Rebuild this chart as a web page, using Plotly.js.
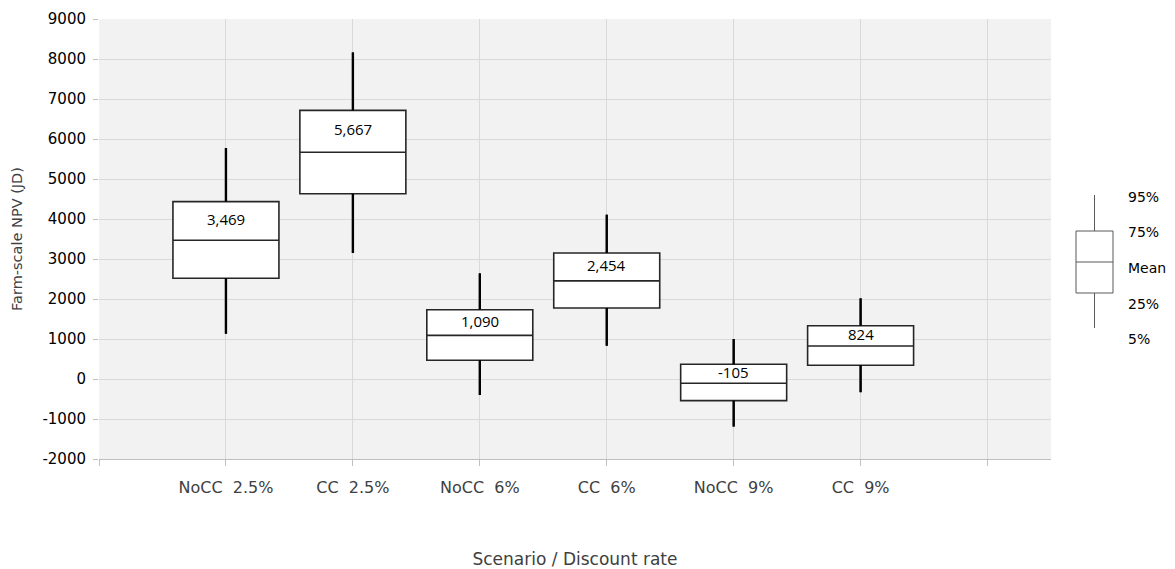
<!DOCTYPE html>
<html>
<head>
<meta charset="utf-8">
<script src="https://cdn.plot.ly/plotly-3.0.1.min.js"></script>
<style>
  html, body { margin: 0; padding: 0; background: #ffffff; }
  #chart { width: 1175px; height: 569px; }
</style>
</head>
<body>
<div id="chart"></div>
<script>
// Farm-scale NPV by scenario and discount rate (JD)
const categories = ['NoCC  2.5%', 'CC  2.5%', 'NoCC  6%', 'CC  6%', 'NoCC  9%', 'CC  9%'];
const p5   = [1130, 3150, -400, 830, -1190, -330];
const p25  = [2520, 4630, 470, 1775, -540, 345];
const mean = [3469, 5667, 1090, 2454, -105, 824];
const p75  = [4435, 6715, 1733, 3150, 367, 1332];
const p95  = [5775, 8165, 2642, 4108, 1000, 2017];

const yTicks = [-2000, -1000, 0, 1000, 2000, 3000, 4000, 5000, 6000, 7000, 8000, 9000];
const legendLabels = ['95%', '75%', 'Mean', '25%', '5%'];

const W = 1175, H = 569;
const M = { l: 99, r: 124, t: 19, b: 110 };
const plotW = W - M.l - M.r, plotH = H - M.t - M.b;
const px = x => (x - M.l) / plotW;          // pixel column -> paper x
const py = y => (H - M.b - y) / plotH;      // pixel row -> paper y

const xpos = categories.map((_, i) => i + 1);

// whiskers: 5%-25% and 75%-95%, drawn heavier than the box outline
const wx = [], wy = [];
xpos.forEach((x, i) => {
  wx.push(x, x, null, x, x, null);
  wy.push(p5[i], p25[i], null, p75[i], p95[i], null);
});
const whiskerTrace = {
  type: 'scatter', mode: 'lines',
  x: wx, y: wy,
  line: { color: '#000000', width: 2.4 },
  hoverinfo: 'skip', showlegend: false
};

const boxTrace = {
  type: 'box',
  x: xpos,
  q1: p25,
  median: mean,
  q3: p75,
  lowerfence: p5,
  upperfence: p95,
  width: 0.835,
  whiskerwidth: 0,
  fillcolor: '#ffffff',
  line: { color: '#262626', width: 1.6 },
  hoverinfo: 'skip',
  showlegend: false
};

const fmt = v => v.toLocaleString('en-US');

const valueLabels = categories.map((c, i) => ({
  xref: 'x', yref: 'y',
  x: xpos[i], y: (mean[i] + p75[i]) / 2,
  text: fmt(mean[i]),
  showarrow: false,
  yshift: 2,
  font: { family: 'Open Sans, DejaVu Sans, sans-serif', size: 15, color: '#000000' }
}));

// key explaining the box elements, on the right of the plot
const keyRows = [197, 232, 268, 304, 339];
const keyLabels = legendLabels.map((t, i) => ({
  xref: 'paper', yref: 'paper',
  x: px(1126), y: py(keyRows[i]),
  xanchor: 'left', yanchor: 'middle',
  text: t, showarrow: false,
  font: { family: 'DejaVu Sans, sans-serif', size: 14, color: '#000000' }
}));
const keyLine = { color: '#595959', width: 1 };
const keyShapes = [
  { type: 'line', xref: 'paper', yref: 'paper', x0: px(1094.5), x1: px(1094.5), y0: py(195), y1: py(231), line: keyLine },
  { type: 'line', xref: 'paper', yref: 'paper', x0: px(1094.5), x1: px(1094.5), y0: py(293), y1: py(328), line: keyLine },
  { type: 'rect', xref: 'paper', yref: 'paper', x0: px(1076), x1: px(1113), y0: py(293), y1: py(231), line: keyLine, fillcolor: '#ffffff' },
  { type: 'line', xref: 'paper', yref: 'paper', x0: px(1076), x1: px(1113), y0: py(262), y1: py(262), line: keyLine }
];

const layout = {
  width: W, height: H,
  margin: M,
  paper_bgcolor: '#ffffff',
  plot_bgcolor: '#f2f2f2',
  showlegend: false,
  xaxis: {
    range: [0, 7.5],
    tickmode: 'array',
    tickvals: [0].concat(xpos, [7]),
    ticktext: [''].concat(categories, ['']),
    showgrid: true, gridcolor: '#d9d9d9', gridwidth: 1,
    zeroline: false,
    showline: true, linecolor: '#bfbfbf', linewidth: 1,
    ticks: 'outside', ticklen: 6, tickcolor: '#bfbfbf',
    ticklabelstandoff: 8,
    tickfont: { family: 'DejaVu Sans, sans-serif', size: 16, color: '#404040' },
    title: {
      text: 'Scenario / Discount rate',
      standoff: 62,
      font: { family: 'DejaVu Sans, sans-serif', size: 17, color: '#404040' }
    },
    fixedrange: true
  },
  yaxis: {
    range: [-2000, 9000],
    tickmode: 'array',
    tickvals: yTicks,
    ticktext: yTicks.map(v => String(v)),
    showgrid: true, gridcolor: '#d9d9d9', gridwidth: 1,
    zeroline: false,
    showline: false,
    ticks: 'outside', ticklen: 5, tickcolor: '#bfbfbf',
    ticklabelstandoff: 4,
    tickfont: { family: 'DejaVu Sans, sans-serif', size: 15, color: '#000000' },
    title: {
      text: 'Farm-scale NPV (JD)',
      standoff: 16,
      font: { family: 'DejaVu Sans, sans-serif', size: 14.5, color: '#404040' }
    },
    fixedrange: true
  },
  annotations: valueLabels.concat(keyLabels),
  shapes: keyShapes
};

Plotly.newPlot('chart', [whiskerTrace, boxTrace], layout, { displayModeBar: false, staticPlot: true });
</script>
</body>
</html>
